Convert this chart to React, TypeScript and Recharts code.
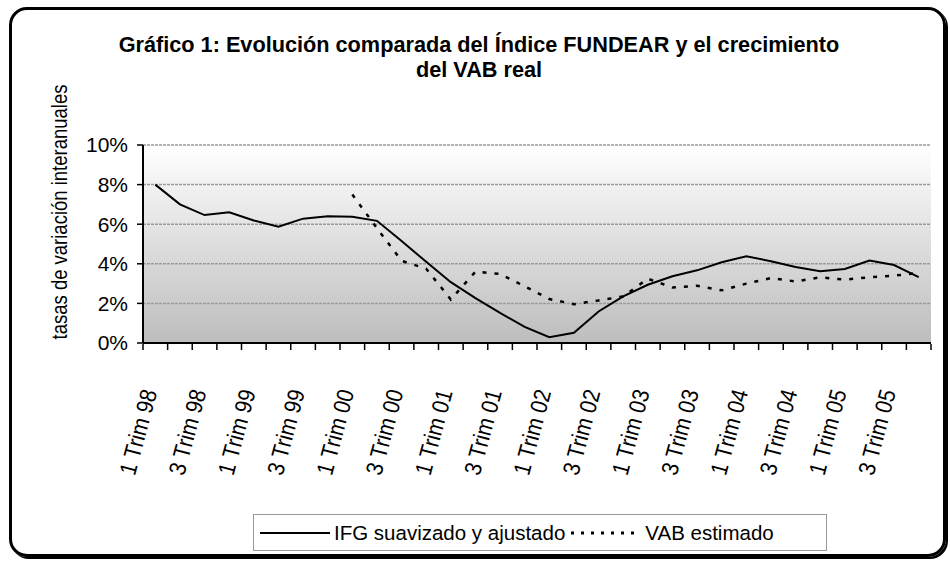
import { LineChart, Line, XAxis, YAxis, CartesianGrid, Legend } from 'recharts'

// ── Data ─────────────────────────────────────────────────────────────────────

const quarters = [
  '1 Trim 98', '2 Trim 98', '3 Trim 98', '4 Trim 98',
  '1 Trim 99', '2 Trim 99', '3 Trim 99', '4 Trim 99',
  '1 Trim 00', '2 Trim 00', '3 Trim 00', '4 Trim 00',
  '1 Trim 01', '2 Trim 01', '3 Trim 01', '4 Trim 01',
  '1 Trim 02', '2 Trim 02', '3 Trim 02', '4 Trim 02',
  '1 Trim 03', '2 Trim 03', '3 Trim 03', '4 Trim 03',
  '1 Trim 04', '2 Trim 04', '3 Trim 04', '4 Trim 04',
  '1 Trim 05', '2 Trim 05', '3 Trim 05', '4 Trim 05',
]

// IFG suavizado y ajustado (%)
const ifgValues = [
  8.0, 7.0, 6.46, 6.6, 6.19, 5.87, 6.28, 6.4,
  6.38, 6.17, 5.15, 4.1, 3.07, 2.27, 1.52, 0.81,
  0.29, 0.52, 1.59, 2.35, 2.94, 3.37, 3.67, 4.08,
  4.38, 4.13, 3.84, 3.62, 3.74, 4.16, 3.94, 3.33,
]

// VAB estimado (%), starts in 1 Trim 00
const vabValues: (number | null)[] = [
  null, null, null, null, null, null, null, null,
  7.5, 5.8, 4.15, 3.75, 2.2, 3.6, 3.49, 2.86,
  2.22, 1.96, 2.15, 2.35, 3.25, 2.8, 2.89, 2.66,
  3.0, 3.28, 3.11, 3.32, 3.2, 3.32, 3.4, 3.54,
]

const yTicks = [0, 2, 4, 6, 8, 10]

const seriesNames = {
  ifg: 'IFG suavizado y ajustado',
  vab: 'VAB estimado',
}

// ── Helpers ──────────────────────────────────────────────────────────────────

const FONT = '"Liberation Sans", Arial, sans-serif'

const data = quarters.map((q, i) => ({ q, pos: i + 0.5, ifg: ifgValues[i], vab: vabValues[i] }))

// tick marks sit on the category boundaries, like the spreadsheet original
const boundaryTicks = [...quarters.map((_, i) => i), quarters.length]

function QuarterTick({ x, y, payload }: any) {
  return (
    <text
      transform={`translate(${x + 2},${y + 49}) rotate(-75) scale(1,1.12)`}
      textAnchor="end"
      fontSize={21}
      fontFamily={FONT}
      fill="#000"
    >
      {payload.value}
    </text>
  )
}

function EmptyTick() {
  return <g />
}

function YTitle() {
  const cx = 67
  const cy = 212
  return (
    <text
      transform={`translate(${cx},${cy}) rotate(-90) scale(1,1.15)`}
      textAnchor="middle"
      fontSize={18.5}
      fontFamily={FONT}
      fill="#000"
    >
      tasas de variación interanuales
    </text>
  )
}

function LegendBox({ payload }: any) {
  return (
    <div
      style={{
        boxSizing: 'border-box',
        width: 574,
        height: 37,
        border: '1.5px solid #999',
        background: '#fff',
        display: 'flex',
        alignItems: 'center',
        paddingLeft: 6,
        fontFamily: FONT,
        fontSize: 20.5,
        color: '#000',
        whiteSpace: 'nowrap',
      }}
    >
      {(payload ?? []).map((entry: any) => {
        const dotted = entry.dataKey === 'vab'
        return (
          <span key={entry.dataKey} style={{ display: 'flex', alignItems: 'center', marginRight: dotted ? 0 : 6 }}>
            <svg width={70} height={10} style={{ marginRight: 4 }}>
              <line
                x1={0}
                y1={5}
                x2={70}
                y2={5}
                stroke="#000"
                strokeWidth={dotted ? 3 : 2}
                strokeDasharray={dotted ? '3 7' : undefined}
              />
            </svg>
            {entry.value}
          </span>
        )
      })}
    </div>
  )
}

// ── Component ────────────────────────────────────────────────────────────────

export default function App() {
  return (
    <div style={{ position: 'absolute', left: 0, top: 0, width: 950, height: 563, background: '#fff', fontFamily: FONT }}>
      {/* rounded frame */}
      <div
        style={{
          position: 'absolute',
          left: 9,
          top: 7,
          width: 937,
          height: 550,
          boxSizing: 'border-box',
          border: '3px solid #000',
          borderRadius: 18,
          boxShadow: '2px 2px 0 #000',
        }}
      />

      {/* title */}
      <div
        style={{
          position: 'absolute',
          left: 4,
          top: 32,
          width: 950,
          textAlign: 'center',
          fontWeight: 700,
          fontSize: 21.7,
          lineHeight: '25px',
          color: '#000',
        }}
      >
        Gráfico 1: Evolución comparada del Índice FUNDEAR y el crecimiento
        <br />
        del VAB real
      </div>

      <div style={{ position: 'absolute', left: 0, top: 0 }}>
        <LineChart width={950} height={563} data={data} margin={{ top: 145, right: 19, bottom: 80, left: 40 }}>
          <defs>
            <linearGradient id="plotBg" x1="0" y1="0" x2="0" y2="1">
              <stop offset="0%" stopColor="#ffffff" />
              <stop offset="100%" stopColor="#bdbdbd" />
            </linearGradient>
          </defs>
          <CartesianGrid
            vertical={false}
            fill="url(#plotBg)"
            fillOpacity={1}
            stroke="#9a9a9a"
            strokeWidth={1.5}
            strokeDasharray="3 1"
          />
          <XAxis
            xAxisId="cat"
            dataKey="q"
            type="category"
            scale="band"
            interval={1}
            tickLine={false}
            tickSize={0}
            tickMargin={0}
            axisLine={{ stroke: '#000', strokeWidth: 2 }}
            tick={<QuarterTick />}
            height={1}
          />
          <XAxis
            xAxisId="marks"
            dataKey="pos"
            type="number"
            domain={[0, quarters.length]}
            allowDataOverflow
            ticks={boundaryTicks}
            interval={0}
            tick={<EmptyTick />}
            tickSize={6}
            tickLine={{ stroke: '#000', strokeWidth: 1.5 }}
            axisLine={false}
            height={139}
          />
          <YAxis
            domain={[0, 10]}
            ticks={yTicks}
            tickFormatter={(v: number) => `${v}%`}
            tick={{ fontSize: 21, fill: '#000', fontFamily: FONT }}
            tickSize={6}
            tickMargin={9}
            tickLine={{ stroke: '#000', strokeWidth: 1.5 }}
            axisLine={{ stroke: '#000', strokeWidth: 2 }}
            width={103}
            label={<YTitle />}
          />
          <YAxis
            yAxisId="right"
            orientation="right"
            domain={[0, 10]}
            width={0}
            tick={false}
            tickLine={false}
            axisLine={{ stroke: '#9a9a9a', strokeWidth: 1.5 }}
          />
          <Legend
            layout="horizontal"
            verticalAlign="middle"
            align="center"
            content={<LegendBox />}
            wrapperStyle={{ position: 'absolute', left: 253, top: 514, width: 574, height: 37 }}
          />
          <Line
            xAxisId="cat"
            type="linear"
            dataKey="ifg"
            name={seriesNames.ifg}
            stroke="#000"
            strokeWidth={2}
            dot={false}
            isAnimationActive={false}
          />
          <Line
            xAxisId="cat"
            type="linear"
            dataKey="vab"
            name={seriesNames.vab}
            stroke="#000"
            strokeWidth={2.5}
            strokeDasharray="4 8"
            dot={false}
            connectNulls={false}
            isAnimationActive={false}
          />
        </LineChart>
      </div>
    </div>
  )
}
